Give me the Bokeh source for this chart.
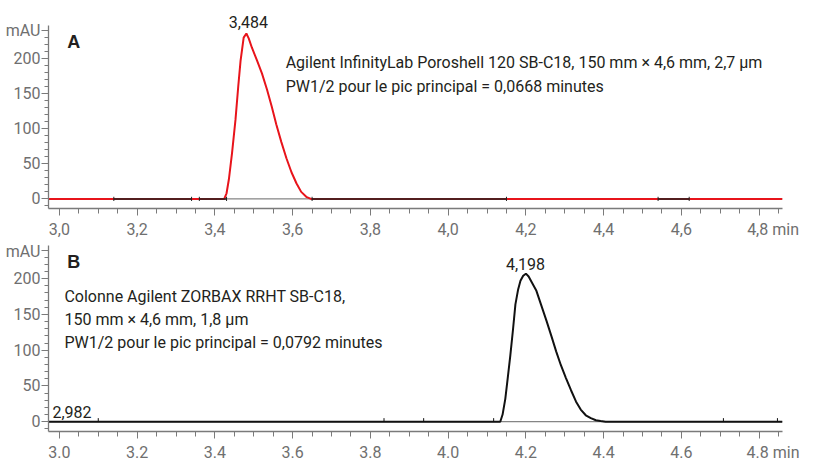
from bokeh.plotting import figure
from bokeh.layouts import column
from bokeh.models import FixedTicker, CustomJSTickFormatter, Label, Span, Range1d
from bokeh.embed import file_html
from bokeh.resources import INLINE

# ---------------- data ----------------
x_start, x_end = 2.972, 4.86
y_low, y_axis_top = -13.7, 247
y_top_a, y_top_b = 283, 252

time_a = [2.972, 3.424, 3.430, 3.436, 3.444, 3.453, 3.460, 3.466, 3.474, 3.481, 3.487,
          3.495, 3.508, 3.521, 3.534, 3.546, 3.558, 3.571, 3.584, 3.597, 3.610, 3.622,
          3.635, 3.647, 4.860]
mau_a = [0, 0, 8, 28, 65, 113, 160, 197, 230, 236, 229,
         216, 198, 179, 156, 132, 106, 81, 58, 38, 22, 10,
         3, 0, 0]

time_b = [2.972, 4.125, 4.134, 4.140, 4.147, 4.153, 4.160, 4.167, 4.173, 4.180, 4.186,
          4.193, 4.200, 4.207, 4.215, 4.227, 4.240, 4.253, 4.266, 4.278, 4.290, 4.303,
          4.316, 4.329, 4.341, 4.354, 4.367, 4.380, 4.392, 4.405, 4.860]
mau_b = [0, 0, 0, 10, 32, 60, 93, 130, 164, 185, 197,
         204, 207, 203, 195, 183, 162, 141, 119, 98, 79, 61,
         44, 28, 17, 9, 5, 2, 1, 0, 0]

# integration baseline segments (panel A) and event marks (panel B)
base_a_start = [3.14, 3.36, 3.65, 4.54]
base_a_end = [3.34, 3.43, 4.15, 4.62]
events_b = [3.10, 3.835, 3.937, 4.117, 4.708, 4.847]

peak_a_time, peak_a_label, peak_a_y = 3.486, "3,484", 253
peak_b_time, peak_b_label, peak_b_y = 4.199, "4,198", 221
start_b_time, start_b_label, start_b_y = 2.982, "2,982", 13

x_major = [3.0, 3.2, 3.4, 3.6, 3.8, 4.0, 4.2, 4.4, 4.6, 4.8]
x_minor = [round(2.95 + 0.05 * i, 3) for i in range(40)]
x_unit = "min"
y_major = [0, 50, 100, 150, 200, 240]
y_minor = list(range(-10, 250, 10))
y_unit = "mAU"

text_a = ["Agilent InfinityLab Poroshell 120 SB-C18, 150 mm \u00d7 4,6 mm, 2,7 \u00b5m",
          "PW1/2 pour le pic principal = 0,0668 minutes"]
text_a_x, text_a_y = 3.582, [194, 161]
text_b = ["Colonne Agilent ZORBAX RRHT SB-C18,",
          "150 mm \u00d7 4,6 mm, 1,8 \u00b5m",
          "PW1/2 pour le pic principal = 0,0792 minutes"]
text_b_x, text_b_y = 3.013, [175, 143, 111]

FONT = "Roboto"
FS = "16px"
GRAY = "#6f6f6f"
AXIS = "#7a7a7a"
INK = "#231f20"


def make_panel(frame_h, y_top, decimal_sep, letter):
    p = figure(frame_width=734, frame_height=frame_h, output_backend="svg",
               toolbar_location=None,
               x_range=Range1d(x_start, x_end), y_range=Range1d(y_low, y_top),
               min_border_left=48, min_border_right=19,
               min_border_top=0, min_border_bottom=0)
    p.outline_line_color = None
    p.xgrid.visible = False
    p.ygrid.visible = False
    p.background_fill_color = "white"

    xa = p.xaxis[0]
    xa.ticker = FixedTicker(ticks=x_major, minor_ticks=x_minor)
    xa.formatter = CustomJSTickFormatter(
        args=dict(last=x_major[-1], unit=x_unit, sep=decimal_sep),
        code=("var s = tick.toFixed(1).replace('.', sep);"
              "if (Math.abs(tick - last) < 1e-6) {"
              "  s = '\\u00a0\\u00a0\\u00a0\\u00a0\\u00a0\\u00a0\\u00a0' + s + ' ' + unit; }"
              "return s;"))
    ya = p.yaxis[0]
    ya.ticker = FixedTicker(ticks=y_major, minor_ticks=y_minor)
    ya.bounds = (y_low, y_axis_top)
    ya.formatter = CustomJSTickFormatter(
        args=dict(top=y_major[-1], unit=y_unit),
        code="return tick == top ? unit : tick.toFixed(0);")
    for ax in (xa, ya):
        ax.axis_line_color = AXIS
        ax.axis_line_width = 1.3
        ax.major_tick_line_color = AXIS
        ax.minor_tick_line_color = AXIS
        ax.major_tick_in = 0
        ax.minor_tick_in = 0
        ax.major_tick_out = 7
        ax.minor_tick_out = 4
        ax.major_label_text_font = FONT
        ax.major_label_text_font_size = FS
        ax.major_label_text_color = GRAY
    xa.minor_tick_out = 5
    xa.major_label_standoff = 4
    ya.major_label_standoff = 1

    p.add_layout(Span(location=0, dimension="width", line_color="#666666",
                      line_width=1, level="underlay"))
    p.add_layout(Label(x=3.02, y=224, text=letter, text_font="Liberation Sans",
                       text_font_style="bold", text_font_size="18px", text_color=INK,
                       text_baseline="alphabetic", text_align="left"))
    return p


p1 = make_panel(208, y_top_a, ",", "A")
p1.line(time_a, mau_a, line_color="#e8141b", line_width=2)
p1.segment(x0=base_a_start, y0=[0] * 4, x1=base_a_end, y1=[0] * 4,
           line_color="#222222", line_width=1.5)
p1.segment(x0=base_a_start + base_a_end, y0=[-3] * 8, x1=base_a_start + base_a_end,
           y1=[3] * 8, line_color="#222222", line_width=1)
p1.add_layout(Label(x=peak_a_time, y=peak_a_y, text=peak_a_label, text_font=FONT,
                    text_font_size=FS, text_color=INK, text_align="center",
                    text_baseline="alphabetic"))
for t, yy in zip(text_a, text_a_y):
    p1.add_layout(Label(x=text_a_x, y=yy, text=t, text_font=FONT, text_font_size=FS,
                        text_color=INK, text_align="left", text_baseline="alphabetic"))

p2 = make_panel(190, y_top_b, ".", "B")
p2.line(time_b, mau_b, line_color="#111111", line_width=2)
p2.segment(x0=events_b, y0=[0] * len(events_b), x1=events_b, y1=[5] * len(events_b),
           line_color="#111111", line_width=1)
p2.add_layout(Label(x=peak_b_time, y=peak_b_y, text=peak_b_label, text_font=FONT,
                    text_font_size=FS, text_color=INK, text_align="center",
                    text_baseline="alphabetic"))
p2.add_layout(Label(x=start_b_time, y=start_b_y, text=start_b_label, text_font=FONT,
                    text_font_size=FS, text_color=INK, text_align="left",
                    text_baseline="alphabetic"))
for t, yy in zip(text_b, text_b_y):
    p2.add_layout(Label(x=text_b_x, y=yy, text=t, text_font=FONT, text_font_size=FS,
                        text_color=INK, text_align="left", text_baseline="alphabetic"))

layout = column(p1, p2, spacing=0)
open("out.html", "w").write(file_html(layout, INLINE))
